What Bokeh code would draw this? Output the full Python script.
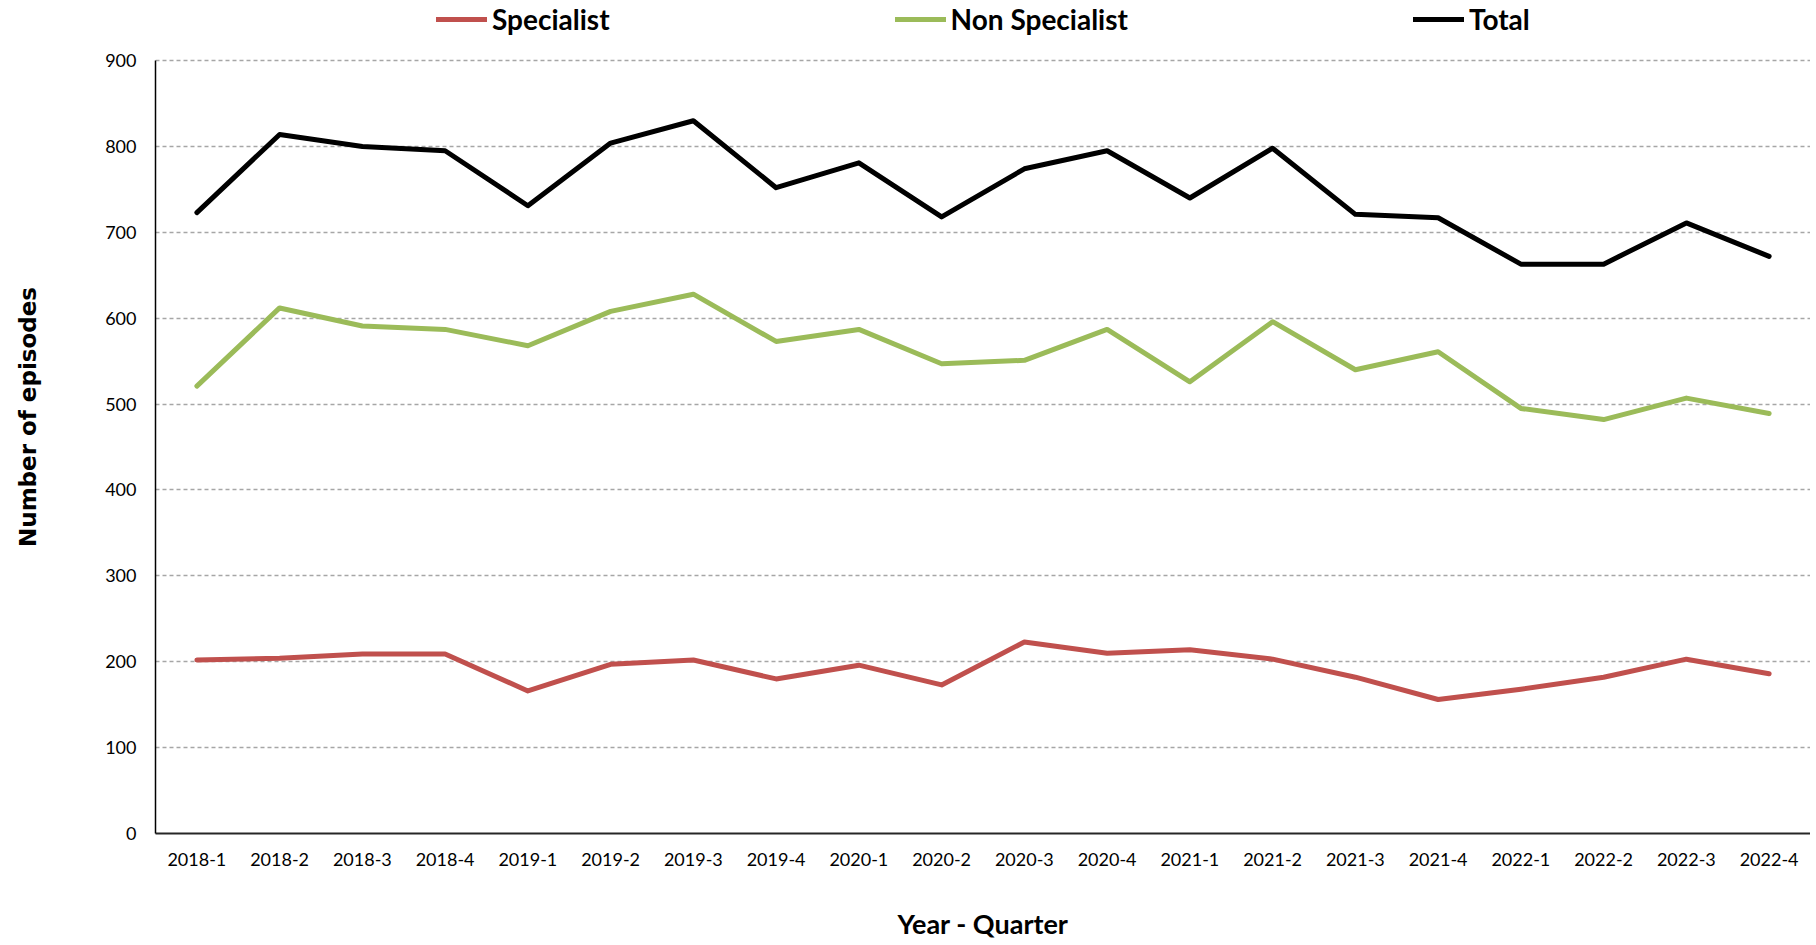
from bokeh.plotting import figure
from bokeh.models import FactorRange, Range1d, FixedTicker, Legend, LegendItem
from bokeh.embed import file_html
from bokeh.resources import INLINE

quarters = ["2018-1", "2018-2", "2018-3", "2018-4", "2019-1", "2019-2", "2019-3", "2019-4",
            "2020-1", "2020-2", "2020-3", "2020-4", "2021-1", "2021-2", "2021-3", "2021-4",
            "2022-1", "2022-2", "2022-3", "2022-4"]
specialist = [202, 204, 209, 209, 166, 197, 202, 180, 196, 173, 223, 210, 214, 203, 182, 156, 168, 182, 203, 186]
non_specialist = [521, 612, 591, 587, 568, 608, 628, 573, 587, 547, 551, 587, 526, 596, 540, 561, 495, 482, 507, 489]
total = [723, 814, 800, 795, 731, 804, 830, 752, 781, 718, 774, 795, 740, 798, 721, 717, 663, 663, 711, 672]
y_ticks = [0, 100, 200, 300, 400, 500, 600, 700, 800, 900]

FONT = "Lato"

# frame extends above the 900 line to leave room for the legend (axis line bounded to 0-900)
p = figure(x_range=FactorRange(factors=quarters), y_range=Range1d(0, 970),
           width=1810, height=944, output_backend="svg", toolbar_location=None,
           min_border_left=155, min_border_right=0, min_border_top=0, min_border_bottom=111)
p.outline_line_color = None
p.background_fill_color = "white"

r_spec = p.line(quarters, specialist, line_color="#C0504D", line_width=5, line_join="round", line_cap="round")
r_non = p.line(quarters, non_specialist, line_color="#9BBB59", line_width=5, line_join="round", line_cap="round")
r_tot = p.line(quarters, total, line_color="#000000", line_width=5, line_join="round", line_cap="round")

p.xgrid.grid_line_color = None
p.ygrid.grid_line_color = "#A6A6A6"
p.ygrid.grid_line_width = 1.5
p.ygrid.grid_line_dash = "4 3"

p.yaxis.ticker = FixedTicker(ticks=y_ticks)
p.yaxis.bounds = (0, 900)
for ax in (p.xaxis[0], p.yaxis[0]):
    ax.major_tick_line_color = None
    ax.minor_tick_line_color = None
    ax.major_tick_out = 0
    ax.major_tick_in = 0
    ax.major_label_text_font = FONT
    ax.major_label_text_font_size = "18px"
    ax.major_label_text_color = "#000000"
    ax.axis_label_text_font_style = "bold"
    ax.axis_label_text_color = "#000000"

p.yaxis.axis_line_color = "#000000"
p.yaxis.axis_line_width = 1.5
p.xaxis.axis_line_color = "#262626"
p.xaxis.axis_line_width = 2

p.yaxis.major_label_standoff = 19
p.xaxis.major_label_standoff = 19

p.xaxis.axis_label = "Year - Quarter"
p.xaxis.axis_label_text_font = FONT
p.xaxis.axis_label_text_font_size = "27px"
p.xaxis.axis_label_standoff = 38

p.yaxis.axis_label = "Number of episodes"
p.yaxis.axis_label_text_font = "DejaVu Sans"
p.yaxis.axis_label_text_font_size = "23px"
p.yaxis.axis_label_standoff = 61

legend = Legend(items=[LegendItem(label="Specialist", renderers=[r_spec]),
                       LegendItem(label="Non Specialist", renderers=[r_non]),
                       LegendItem(label="Total", renderers=[r_tot])],
                orientation="horizontal", location=(281, 797),
                spacing=285, padding=0, margin=0, glyph_width=51, glyph_height=30,
                label_standoff=5, label_text_font=FONT, label_text_font_style="bold",
                label_text_font_size="28px", label_text_color="#000000",
                border_line_color=None, background_fill_alpha=0)
p.add_layout(legend, "center")

open("out.html", "w").write(file_html(p, INLINE))
